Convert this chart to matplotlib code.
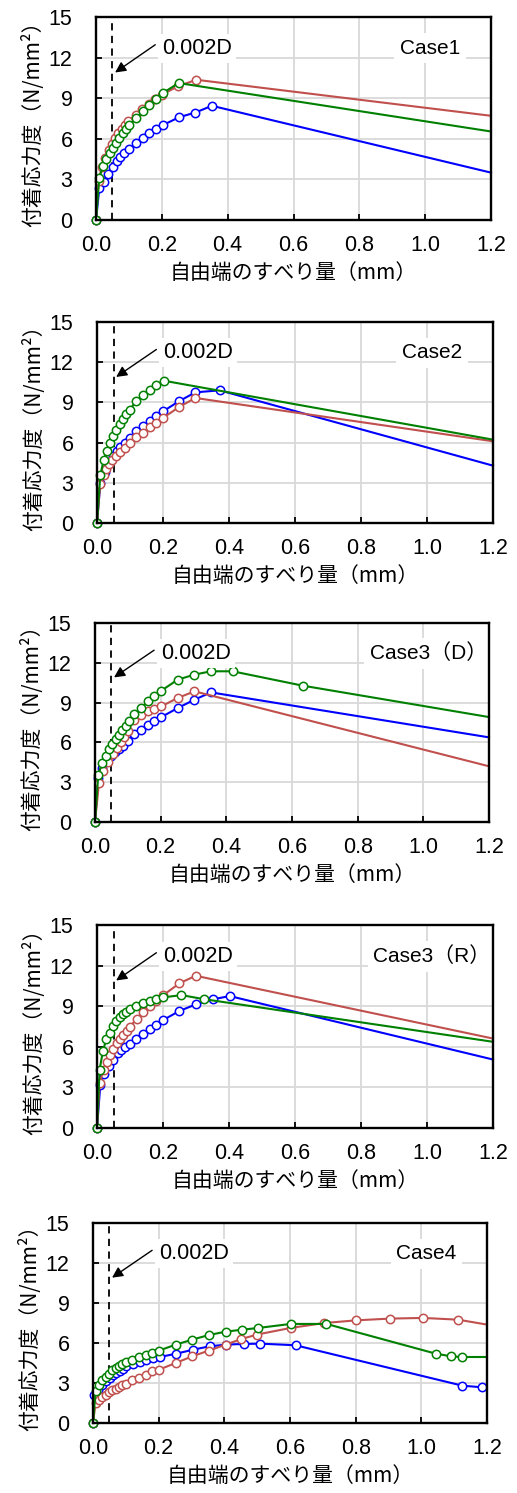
import numpy as np
import matplotlib
matplotlib.use('Agg')
import matplotlib.pyplot as plt

# ---- data ----
case_names = ['Case1', 'Case2', 'Case3（D）', 'Case3（R）', 'Case4']

c1_blue_x = [0, 0.010, 0.023, 0.035, 0.051, 0.064, 0.074, 0.086, 0.101, 0.122, 0.142, 0.162, 0.182, 0.203, 0.253, 0.302, 0.352, 1.2]
c1_blue_y = [0, 2.34, 2.84, 3.38, 3.95, 4.39, 4.69, 4.98, 5.26, 5.67, 6.04, 6.41, 6.74, 7.01, 7.60, 7.94, 8.44, 3.50]
c1_red_x = [0, 0.008, 0.018, 0.028, 0.038, 0.048, 0.058, 0.068, 0.078, 0.088, 0.098, 0.120, 0.140, 0.160, 0.180, 0.200, 0.250, 0.305, 1.2]
c1_red_y = [0, 2.9, 3.9, 4.6, 5.2, 5.65, 6.05, 6.45, 6.75, 7.05, 7.3, 7.75, 8.2, 8.6, 8.95, 9.25, 9.9, 10.36, 7.7]
c1_green_x = [0, 0.010, 0.021, 0.031, 0.042, 0.051, 0.061, 0.071, 0.081, 0.091, 0.101, 0.122, 0.142, 0.162, 0.182, 0.203, 0.251, 1.2]
c1_green_y = [0, 3.13, 4.00, 4.49, 4.93, 5.30, 5.72, 6.09, 6.41, 6.71, 7.03, 7.53, 8.07, 8.51, 8.96, 9.38, 10.12, 6.54]

c2_blue_x = [0, 0.010, 0.023, 0.035, 0.048, 0.061, 0.071, 0.084, 0.099, 0.119, 0.140, 0.160, 0.180, 0.200, 0.248, 0.298, 0.372, 1.2]
c2_blue_y = [0, 2.99, 3.78, 4.48, 4.98, 5.35, 5.65, 5.97, 6.35, 6.84, 7.21, 7.64, 7.96, 8.33, 9.08, 9.75, 9.90, 4.28]
c2_red_x = [0, 0.010, 0.020, 0.028, 0.037, 0.046, 0.059, 0.071, 0.084, 0.099, 0.119, 0.140, 0.160, 0.180, 0.200, 0.249, 0.298, 1.2]
c2_red_y = [0, 2.94, 3.6, 4.03, 4.4, 4.68, 4.98, 5.27, 5.60, 5.97, 6.39, 6.72, 7.14, 7.46, 7.84, 8.66, 9.33, 6.10]
c2_green_x = [0, 0.010, 0.020, 0.030, 0.040, 0.049, 0.059, 0.069, 0.079, 0.089, 0.099, 0.119, 0.140, 0.160, 0.180, 0.202, 1.2]
c2_green_y = [0, 3.56, 4.68, 5.40, 5.97, 6.52, 6.97, 7.39, 7.79, 8.16, 8.46, 9.08, 9.53, 9.95, 10.32, 10.62, 6.22]

c3d_blue_x = [0, 0.010, 0.022, 0.035, 0.048, 0.060, 0.072, 0.085, 0.100, 0.120, 0.141, 0.161, 0.181, 0.202, 0.252, 0.303, 0.353, 1.2]
c3d_blue_y = [0, 3.3, 4.1, 4.6, 4.95, 5.25, 5.5, 5.75, 6.1, 6.63, 6.96, 7.29, 7.59, 7.91, 8.59, 9.22, 9.77, 6.38]
c3d_red_x = [0, 0.012, 0.025, 0.040, 0.055, 0.066, 0.079, 0.089, 0.099, 0.120, 0.141, 0.161, 0.181, 0.202, 0.252, 0.303, 1.2]
c3d_red_y = [0, 2.94, 3.82, 4.50, 5.13, 5.58, 6.03, 6.4, 6.83, 7.71, 8.09, 8.34, 8.55, 8.72, 9.35, 9.85, 4.20]
c3d_green_x = [0, 0.010, 0.022, 0.032, 0.043, 0.053, 0.063, 0.073, 0.083, 0.093, 0.103, 0.120, 0.141, 0.161, 0.181, 0.202, 0.252, 0.303, 0.353, 0.419, 0.632, 1.2]
c3d_green_y = [0, 3.57, 4.45, 4.95, 5.50, 5.90, 6.26, 6.58, 6.91, 7.26, 7.59, 8.14, 8.59, 9.10, 9.47, 9.90, 10.73, 11.11, 11.36, 11.36, 10.28, 7.91]

c3r_blue_x = [0, 0.010, 0.020, 0.035, 0.049, 0.064, 0.074, 0.084, 0.099, 0.119, 0.140, 0.160, 0.180, 0.200, 0.249, 0.299, 0.350, 0.402, 1.2]
c3r_blue_y = [0, 3.16, 4.02, 4.6, 5.06, 5.55, 5.8, 6.0, 6.24, 6.61, 6.91, 7.28, 7.60, 7.97, 8.64, 9.13, 9.50, 9.75, 5.06]
c3r_red_x = [0, 0.008, 0.020, 0.030, 0.040, 0.049, 0.060, 0.070, 0.080, 0.090, 0.100, 0.120, 0.140, 0.160, 0.180, 0.200, 0.249, 0.299, 1.2]
c3r_red_y = [0, 3.3, 4.3, 4.9, 5.4, 5.85, 6.25, 6.6, 6.9, 7.2, 7.5, 8.05, 8.55, 9.0, 9.4, 9.8, 10.68, 11.25, 6.61]
c3r_green_x = [0, 0.008, 0.018, 0.028, 0.038, 0.049, 0.059, 0.069, 0.079, 0.089, 0.099, 0.119, 0.140, 0.160, 0.180, 0.200, 0.256, 0.324, 1.2]
c3r_green_y = [0, 4.32, 5.70, 6.54, 7.03, 7.53, 7.90, 8.17, 8.39, 8.59, 8.76, 9.01, 9.20, 9.38, 9.52, 9.65, 9.82, 9.52, 6.37]

c4_blue_x = [0, 0.004, 0.015, 0.028, 0.041, 0.051, 0.061, 0.071, 0.081, 0.091, 0.102, 0.122, 0.142, 0.162, 0.183, 0.203, 0.254, 0.305, 0.355, 0.406, 0.459, 0.510, 0.617, 1.125, 1.184, 1.2]
c4_blue_y = [0, 2.08, 2.5, 2.83, 3.13, 3.38, 3.58, 3.75, 3.93, 4.08, 4.25, 4.45, 4.6, 4.75, 4.85, 4.95, 5.2, 5.5, 5.75, 5.88, 5.93, 5.95, 5.83, 2.80, 2.68, 2.68]
c4_red_x = [0, 0.008, 0.018, 0.028, 0.039, 0.049, 0.059, 0.069, 0.079, 0.089, 0.099, 0.120, 0.140, 0.160, 0.181, 0.201, 0.252, 0.302, 0.353, 0.404, 0.452, 0.499, 0.602, 0.705, 0.802, 0.904, 1.005, 1.112, 1.2]
c4_red_y = [0, 1.5, 1.75, 1.95, 2.13, 2.30, 2.45, 2.58, 2.70, 2.83, 2.95, 3.2, 3.38, 3.63, 3.88, 4.0, 4.5, 5.0, 5.43, 5.88, 6.3, 6.63, 7.13, 7.5, 7.7, 7.83, 7.88, 7.75, 7.38]
c4_green_x = [0, 0.008, 0.018, 0.028, 0.039, 0.049, 0.059, 0.069, 0.079, 0.089, 0.099, 0.120, 0.140, 0.160, 0.181, 0.201, 0.252, 0.302, 0.353, 0.404, 0.455, 0.504, 0.602, 0.711, 1.044, 1.091, 1.125, 1.2]
c4_green_y = [0, 2.38, 2.88, 3.2, 3.45, 3.70, 3.95, 4.13, 4.30, 4.45, 4.55, 4.75, 4.93, 5.08, 5.25, 5.43, 5.88, 6.25, 6.60, 6.85, 7.00, 7.13, 7.43, 7.43, 5.20, 5.00, 4.95, 4.95]

slip_limit = 0.05  # 0.002D
x_ticks = [0.0, 0.2, 0.4, 0.6, 0.8, 1.0, 1.2]
y_ticks = [0, 3, 6, 9, 12, 15]

panels = [
    [(c1_blue_x, c1_blue_y), (c1_red_x, c1_red_y), (c1_green_x, c1_green_y)],
    [(c2_blue_x, c2_blue_y), (c2_red_x, c2_red_y), (c2_green_x, c2_green_y)],
    [(c3d_blue_x, c3d_blue_y), (c3d_red_x, c3d_red_y), (c3d_green_x, c3d_green_y)],
    [(c3r_blue_x, c3r_blue_y), (c3r_red_x, c3r_red_y), (c3r_green_x, c3r_green_y)],
    [(c4_blue_x, c4_blue_y), (c4_red_x, c4_red_y), (c4_green_x, c4_green_y)],
]
colors = ['#0000FF', '#C0504D', '#008000']

# ---- figure ----
W, H = 517, 1493
fig = plt.figure(figsize=(W / 100, H / 100), dpi=100)

# axes boxes in pixels: left, top, right, bottom
boxes = [(96, 17, 491, 220), (97, 322, 493, 523), (95, 623, 489, 822),
         (97, 925, 493, 1128), (93, 1223, 487, 1423)]

jp = ['Noto Sans CJK JP', 'DejaVu Sans']
num = ['Liberation Sans', 'Noto Sans CJK JP', 'DejaVu Sans']

for i, (series, name) in enumerate(zip(panels, case_names)):
    l, t, r, b = boxes[i]
    ax = fig.add_axes([l / W, 1 - b / H, (r - l) / W, (b - t) / H])

    ax.set_xlim(0, 1.2)
    ax.set_ylim(0, 15)
    ax.set_xticks(x_ticks)
    ax.set_yticks(y_ticks)
    ax.set_xticklabels(['%.1f' % v for v in x_ticks], fontsize=15.5, family=num)
    ax.set_yticklabels([str(v) for v in y_ticks], fontsize=15.5, family=num)
    ax.tick_params(direction='in', length=4, width=1.3)
    ax.tick_params(axis='x', pad=11)
    ax.tick_params(axis='y', pad=17)
    ax.grid(True, color='#D9D9D9', linewidth=1.3, zorder=0)
    ax.set_axisbelow(True)
    for sp in ax.spines.values():
        sp.set_linewidth(1.7)
        sp.set_zorder(10)

    ax.axvline(slip_limit, color='black', linestyle=(0, (4, 3)), linewidth=1.3, zorder=2)

    for (xs, ys), col in zip(series, colors):
        ax.plot(xs, ys, color=col, linewidth=1.5, marker='o', markersize=6,
                markerfacecolor='white', markeredgecolor=col, markeredgewidth=1.1,
                markevery=slice(0, len(xs) - 1), zorder=3, clip_on=False)

    ax.text(0.2, 12.7, '0.002D', fontsize=15.5, family=num, ha='left', va='center',
            bbox=dict(facecolor='white', edgecolor='none', pad=3), zorder=4)
    ax.annotate('', xy=(0.058, 10.9), xytext=(0.18, 12.95),
                arrowprops=dict(arrowstyle='-|>', color='black', lw=1.0,
                                mutation_scale=16, shrinkA=0, shrinkB=0), zorder=5)
    ax.text(1.015, 12.7, name, fontsize=15, family=num,
            ha='center', va='center',
            bbox=dict(facecolor='white', edgecolor='none', pad=4), zorder=4)

    ax.set_xlabel('自由端のすべり量（mm）', fontsize=15, family=jp, labelpad=4)
    ax.set_ylabel('付着応力度（N/mm²）', fontsize=15, family=jp, labelpad=3)

fig.savefig('out.png', dpi=100)
